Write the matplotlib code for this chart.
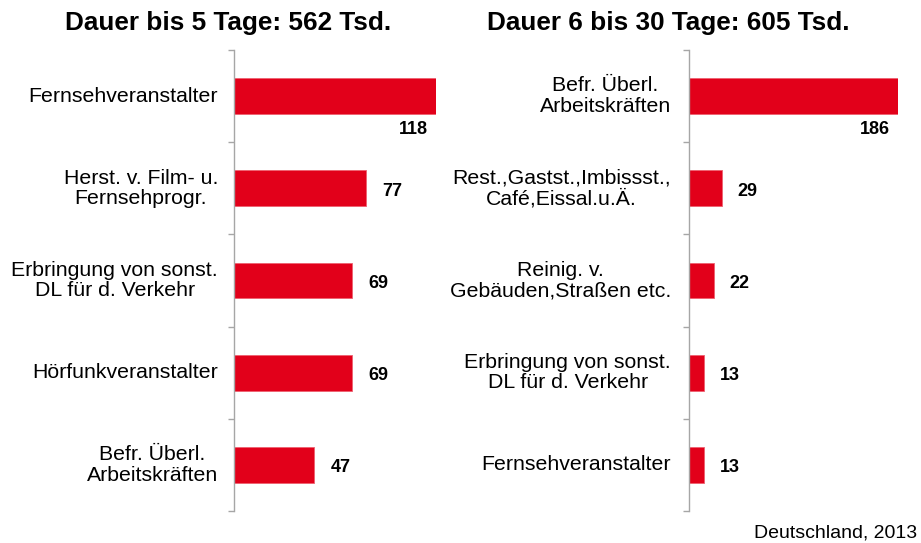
import numpy as np
import matplotlib.pyplot as plt
import matplotlib.transforms as mtransforms

plt.rcParams['font.family'] = ['Liberation Sans', 'DejaVu Sans']

# data
left_title = "Dauer bis 5 Tage: 562 Tsd."
left_cats = ["Fernsehveranstalter", "Herst. v. Film- u.\nFernsehprogr.",
             "Erbringung von sonst.\nDL für d. Verkehr", "Hörfunkveranstalter",
             "Befr. Überl.\nArbeitskräften"]
left_vals = [118, 77, 69, 69, 47]

right_title = "Dauer 6 bis 30 Tage: 605 Tsd."
right_cats = ["Befr. Überl.\nArbeitskräften", "Rest.,Gastst.,Imbissst.,\nCafé,Eissal.u.Ä.",
              "Reinig. v.\nGebäuden,Straßen etc.", "Erbringung von sonst.\nDL für d. Verkehr",
              "Fernsehveranstalter"]
right_vals = [186, 29, 22, 13, 13]

red = "#E2001A"
grey = "#A6A6A6"

fig = plt.figure(figsize=(9.21, 5.43), dpi=100)


def draw_panel(rect, cats, vals, title, label_right_px, title_center_px):
    ax = fig.add_axes(rect)
    y = np.arange(len(cats))
    ax.barh(y, vals, height=0.39, color=red, edgecolor="#EE6070", linewidth=0.6)
    ax.set_ylim(len(cats) - 0.5, -0.5)
    ax.set_xlim(0, max(vals))
    for s in ["top", "right", "bottom"]:
        ax.spines[s].set_visible(False)
    ax.spines["left"].set_color(grey)
    ax.spines["left"].set_linewidth(1.0)
    ax.set_xticks([])
    ax.set_yticks(np.arange(len(cats) + 1) - 0.5)
    ax.set_yticklabels([])
    ax.tick_params(axis="y", length=4, color=grey, width=1.0)

    # category labels, right aligned block with centred lines
    tr = mtransforms.blended_transform_factory(fig.transFigure, ax.transData)
    for yi, c in zip(y, cats):
        ax.text(label_right_px / 921, yi, c, transform=tr, ha="right", va="center",
                multialignment="center", fontsize=15.3, linespacing=1.1)

    # value labels
    vmax = max(vals)
    for yi, v in zip(y, vals):
        if v == vmax:
            t = mtransforms.offset_copy(ax.transData, fig=fig, x=-8, y=0, units="dots")
            ax.text(v, yi + 0.36, str(v), transform=t, ha="right", va="center",
                    fontsize=13, fontweight="bold")
        else:
            t = mtransforms.offset_copy(ax.transData, fig=fig, x=16, y=0, units="dots")
            ax.text(v, yi + 0.03, str(v), transform=t, ha="left", va="center",
                    fontsize=13, fontweight="bold")

    fig.text(title_center_px / 921, 1 - 23 / 543, title, ha="center", va="center",
             fontsize=18.8, fontweight="bold")
    return ax


bottom = 1 - 511 / 543
height = (511 - 50) / 543
draw_panel([234 / 921, bottom, (436 - 234) / 921, height], left_cats, left_vals,
           left_title, 218, 228)
draw_panel([689 / 921, bottom, (898 - 689) / 921, height], right_cats, right_vals,
           right_title, 671, 668)

fig.text(917 / 921, 1 - 533 / 543, "Deutschland, 2013", ha="right", va="center",
         fontsize=14)

plt.savefig("out.png", dpi=100)
